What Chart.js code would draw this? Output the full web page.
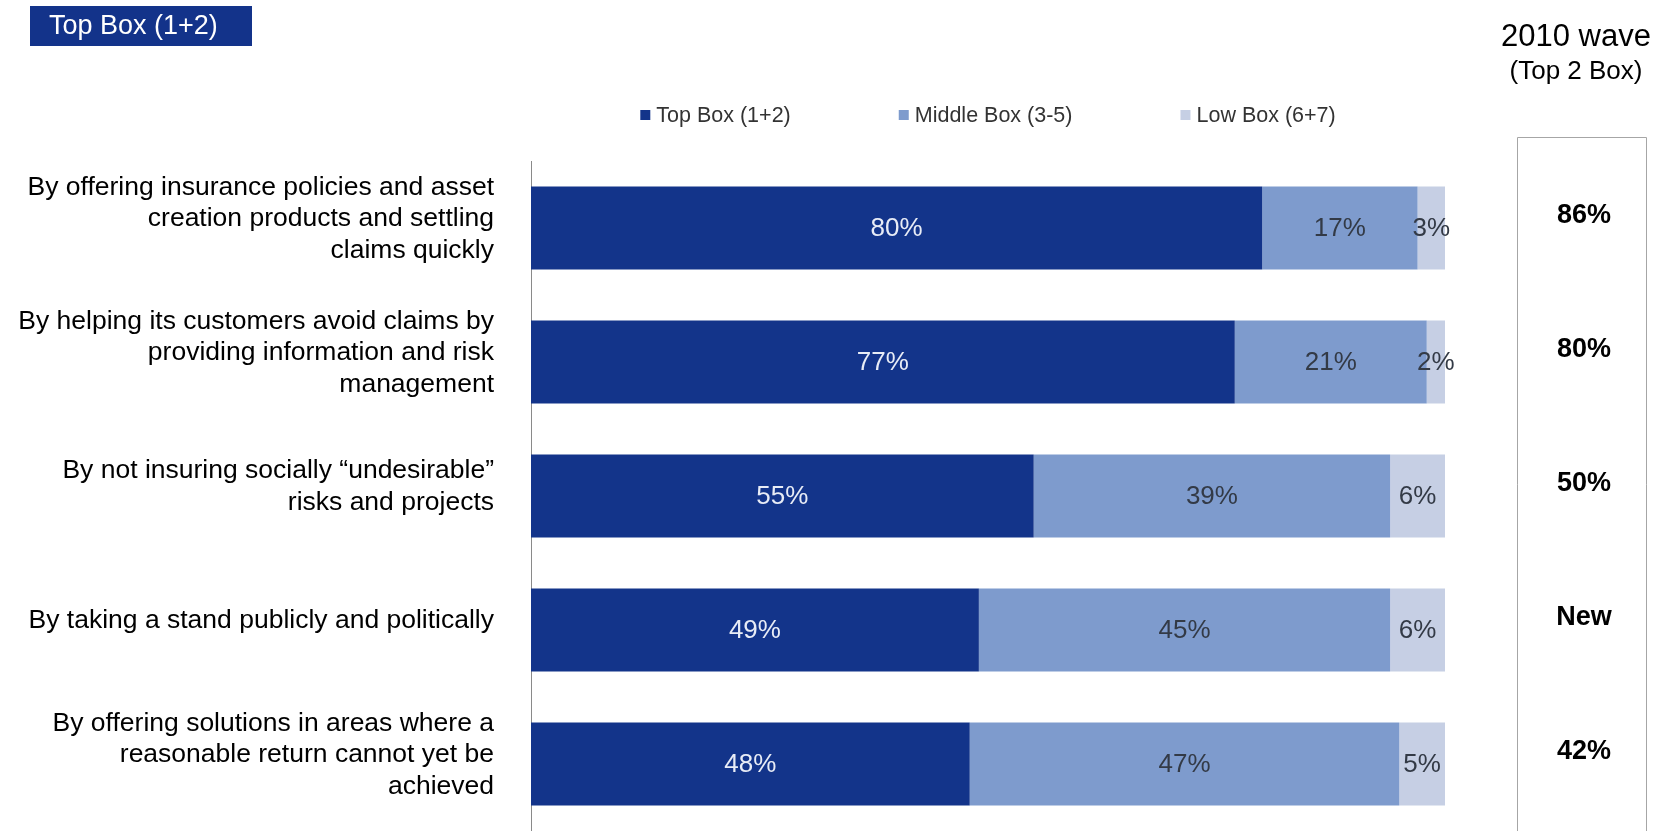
<!DOCTYPE html>
<html>
<head>
<meta charset="utf-8">
<title>Top Box (1+2)</title>
<script src="https://cdn.jsdelivr.net/npm/chart.js@4.4.1/dist/chart.umd.min.js"></script>
<style>
  html, body { margin: 0; padding: 0; background: #fff; }
  #chart { display: block; }
</style>
</head>
<body>
<canvas id="chart" width="1657" height="831"></canvas>
<script>
var categories = [
  ['By offering insurance policies and asset', 'creation products and settling', 'claims quickly'],
  ['By helping its customers avoid claims by', 'providing information and risk', 'management'],
  ['By not insuring socially \u201cundesirable\u201d', 'risks and projects'],
  ['By taking a stand publicly and politically'],
  ['By offering solutions in areas where a', 'reasonable return cannot yet be', 'achieved']
];
var topBox = [80, 77, 55, 49, 48];
var middleBox = [17, 21, 39, 45, 47];
var lowBox = [3, 2, 6, 6, 5];
var wave2010 = ['86%', '80%', '50%', 'New', '42%'];

var FONT = '"Liberation Sans", Arial, Helvetica, sans-serif';
var colors = ['#13348a', '#7e9bcd', '#c6cfe4'];

// percentage text in the middle of every bar segment
var segmentLabels = {
  id: 'segmentLabels',
  afterDatasetsDraw: function (chart) {
    var ctx = chart.ctx;
    ctx.save();
    ctx.font = '26px ' + FONT;
    ctx.textAlign = 'center';
    ctx.textBaseline = 'middle';
    chart.data.datasets.forEach(function (ds, di) {
      var meta = chart.getDatasetMeta(di);
      ctx.fillStyle = di === 0 ? '#e8ecf6' : '#333a46';
      meta.data.forEach(function (bar, i) {
        var cx = (bar.x + bar.base) / 2;
        ctx.fillText(ds.data[i] + '%', cx, bar.y + 1);
      });
    });
    ctx.restore();
  }
};

// header box, legend row and the 2010 wave column
var decorations = {
  id: 'decorations',
  afterDraw: function (chart) {
    var ctx = chart.ctx;
    var area = chart.chartArea;
    var y = chart.scales.y;
    ctx.save();

    ctx.fillStyle = '#13338a';
    ctx.fillRect(30, 6, 222, 40);
    ctx.fillStyle = '#ffffff';
    ctx.font = '27px ' + FONT;
    ctx.textAlign = 'left';
    ctx.textBaseline = 'middle';
    ctx.fillText('Top Box (1+2)', 49, 27);

    // legend
    ctx.font = '21.5px ' + FONT;
    var box = 10, gapText = 6, gapItem = 108;
    var widths = chart.data.datasets.map(function (ds) {
      return box + gapText + ctx.measureText(ds.label).width;
    });
    var total = widths.reduce(function (a, b) { return a + b; }, 0) + gapItem * (widths.length - 1);
    var x = (area.left + area.right) / 2 - total / 2;
    chart.data.datasets.forEach(function (ds, i) {
      ctx.fillStyle = ds.backgroundColor;
      ctx.fillRect(x, 110, box, box);
      ctx.fillStyle = '#333333';
      ctx.fillText(ds.label, x + box + gapText, 116);
      x += widths[i] + gapItem;
    });

    // 2010 wave column
    ctx.fillStyle = '#000000';
    ctx.textAlign = 'center';
    ctx.font = '31px ' + FONT;
    ctx.fillText('2010 wave', 1576, 37);
    ctx.font = '26px ' + FONT;
    ctx.fillText('(Top 2 Box)', 1576, 72);

    ctx.strokeStyle = '#a6a6a6';
    ctx.lineWidth = 1;
    ctx.beginPath();
    ctx.moveTo(1517.5, 831);
    ctx.lineTo(1517.5, 137.5);
    ctx.lineTo(1646.5, 137.5);
    ctx.lineTo(1646.5, 831);
    ctx.stroke();

    ctx.font = 'bold 27px ' + FONT;
    wave2010.forEach(function (v, i) {
      ctx.fillText(v, 1584, y.getPixelForValue(i) - 12);
    });
    ctx.restore();
  }
};

new Chart(document.getElementById('chart'), {
  type: 'bar',
  data: {
    labels: categories,
    datasets: [
      { label: 'Top Box (1+2)', data: topBox, backgroundColor: colors[0] },
      { label: 'Middle Box (3-5)', data: middleBox, backgroundColor: colors[1] },
      { label: 'Low Box (6+7)', data: lowBox, backgroundColor: colors[2] }
    ]
  },
  options: {
    indexAxis: 'y',
    responsive: false,
    animation: false,
    layout: { padding: { left: 0, right: 212, top: 161, bottom: 0 } },
    barPercentage: 0.62,
    categoryPercentage: 1,
    scales: {
      x: { stacked: true, display: false, min: 0, max: 100 },
      y: {
        stacked: true,
        grid: { display: false, drawTicks: false },
        border: { display: true, color: '#8a8a8a', width: 1, dash: [2, 1] },
        ticks: {
          color: '#000000',
          padding: 37,
          labelOffset: -9,
          font: { family: FONT, size: 26.5, lineHeight: 1.2 }
        },
        afterFit: function (scale) {
          // multi-line labels would otherwise shrink the plot area
          scale.width = 531;
          scale.paddingTop = 0;
          scale.paddingBottom = 0;
        }
      }
    },
    plugins: {
      legend: { display: false },
      tooltip: { enabled: false }
    }
  },
  plugins: [segmentLabels, decorations]
});
</script>
</body>
</html>
